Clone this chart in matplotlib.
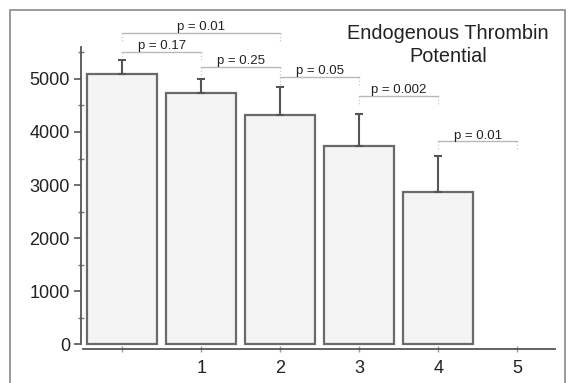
import matplotlib
matplotlib.use('Agg')
import matplotlib.pyplot as plt
from matplotlib.patches import Rectangle

plt.rcParams['font.family'] = ['Liberation Sans', 'DejaVu Sans']

# bar values
groups = [0, 1, 2, 3, 4]
means = [5100, 4740, 4330, 3735, 2870]
err_top = [5360, 5000, 4850, 4340, 3550]

tick_pos = [0, 1, 2, 3, 4, 5]
tick_labels = ['', '1', '2', '3', '4', '5']

# p-value brackets: (left, right, height, label)
brackets = [
    (0, 2, 5870, 'p = 0.01'),
    (0, 1, 5510, 'p = 0.17'),
    (1, 2, 5230, 'p = 0.25'),
    (2, 3, 5040, 'p = 0.05'),
    (3, 4, 4680, 'p = 0.002'),
    (4, 5, 3830, 'p = 0.01'),
]

W, H = 571, 383
fig = plt.figure(figsize=(W / 100, H / 100), dpi=100)
ax = fig.add_axes([81 / W, 1 - 349 / H, 475 / W, 329 / H])

# outer frame of the figure
fig.patches.append(Rectangle((10 / W, -0.05), 555 / W, 1 - 10 / H + 0.05,
                             transform=fig.transFigure, fill=False,
                             edgecolor='#8a8a8a', lw=1.2))

ax.bar(groups, means, width=0.89, color='#f4f4f4', edgecolor='#6a6a6a',
       linewidth=1.6, zorder=2)
yerr = [[0] * len(means), [t - m for t, m in zip(err_top, means)]]
ax.errorbar(groups, means, yerr=yerr, fmt='none', ecolor='#555555',
            elinewidth=1.5, capsize=3, capthick=1.5, zorder=3)

for x0, x1, h, lab in brackets:
    ax.plot([x0, x1], [h, h], color='#b8b8b8', lw=1.0, zorder=1)
    ax.plot([x0, x0], [h, h - 180], color='#c8c8c8', lw=0.9, ls=':', zorder=1)
    ax.plot([x1, x1], [h, h - 180], color='#c8c8c8', lw=0.9, ls=':', zorder=1)
    ax.text((x0 + x1) / 2, h - 10, lab, ha='center', va='bottom',
            fontsize=9.5, color='#222222')

ax.set_xlim(-0.52, 5.49)
ax.set_ylim(-94, 6113)
ax.set_xticks(tick_pos)
ax.set_xticklabels(tick_labels)
ax.set_yticks(range(0, 6000, 1000))
ax.set_yticks(range(500, 6000, 1000), minor=True)

for s in ['top', 'right']:
    ax.spines[s].set_visible(False)
ax.spines['left'].set_bounds(0, 5600)
ax.spines['bottom'].set_bounds(-0.49, 5.48)
for s in ['left', 'bottom']:
    ax.spines[s].set_color('#555555')
    ax.spines[s].set_linewidth(1.3)

ax.tick_params(axis='y', which='major', direction='out', length=5, width=1.2,
               color='#555555', labelsize=13, labelcolor='#222222', pad=3)
ax.tick_params(axis='y', which='minor', direction='inout', length=4, width=1,
               color='#777777')
ax.tick_params(axis='x', direction='inout', length=4, width=1,
               color='#999999', labelsize=13, labelcolor='#222222', pad=6)

fig.text(448 / W, 1 - 45 / H, 'Endogenous Thrombin\nPotential', ha='center',
         va='center', fontsize=14.3, color='#222222', linespacing=1.25)

fig.savefig('out.png', dpi=100)
